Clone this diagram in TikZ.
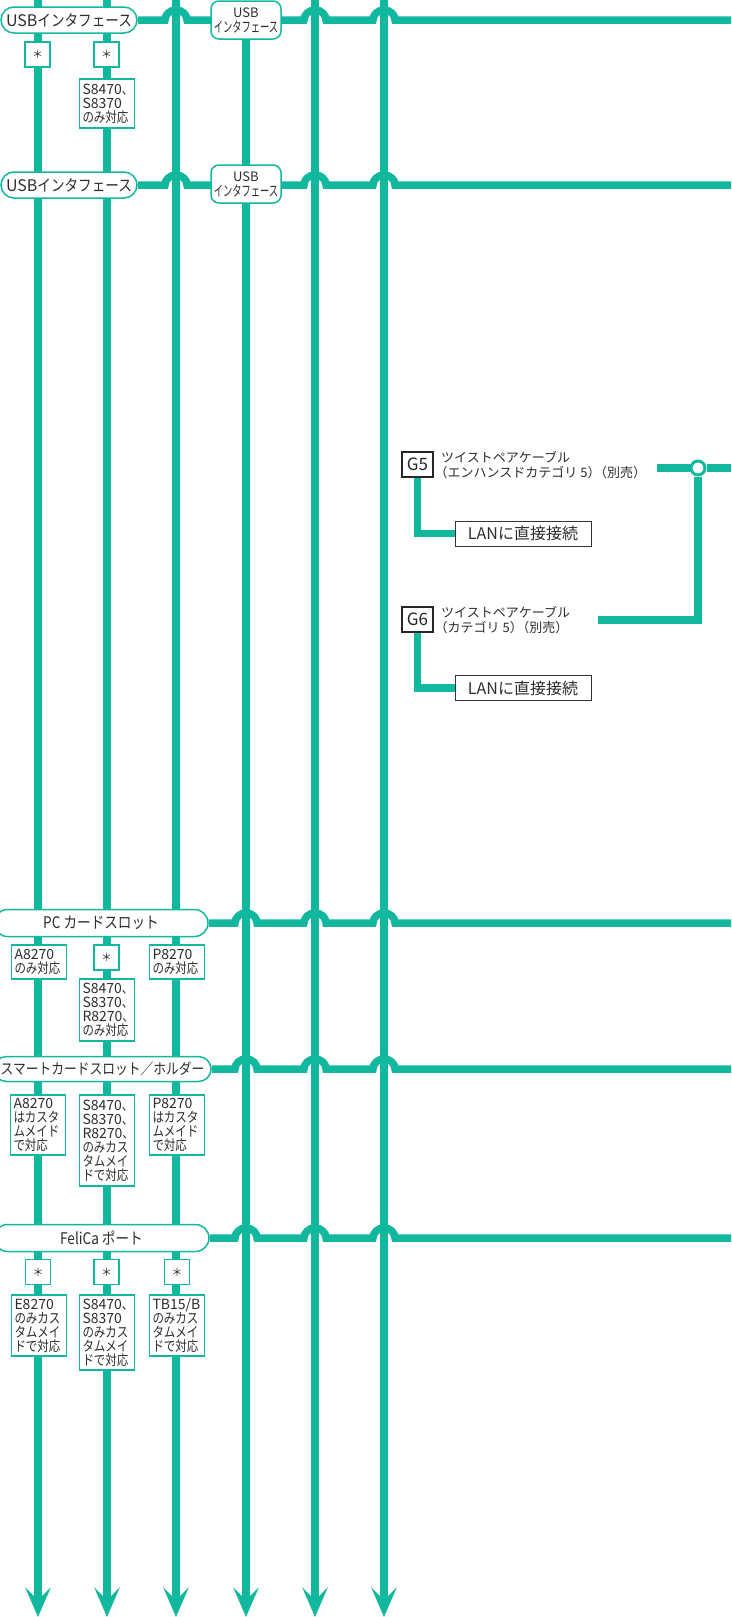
\documentclass[tikz,border=0pt]{standalone}
\usepackage{fontspec}
\setmainfont{Noto Sans CJK JP}
\newfontfamily\jpa[FakeStretch=0.85]{Noto Sans CJK JP}
\newfontfamily\jpb[FakeStretch=0.82]{Noto Sans CJK JP}
\newfontfamily\jpc[FakeStretch=0.64]{Noto Sans CJK JP}
\newfontfamily\jpd{Noto Sans CJK JP}
\newfontfamily\jph[RawFeature=+halt]{Noto Sans CJK JP}
\newcommand\lt[1]{{\jpd #1}}
\newcommand\hw[1]{{\jph #1}}
\usetikzlibrary{arrows.meta,shapes.misc,backgrounds}
\definecolor{mint}{RGB}{18,184,158}
\definecolor{ink}{RGB}{45,45,45}
\begin{document}
\begin{tikzpicture}[x=1pt,y=-1pt,
  mainline/.style={draw=mint,line width=7.5pt},
  downarrow/.style={-{Stealth[length=30pt,width=26pt,inset=13pt,line width=0pt]}},
  bubble/.style={rounded rectangle, draw=mint, line width=1.5pt, fill=white, text=ink, inner sep=0pt, font=\jpa\fontsize{16}{18}\selectfont},
  usbb/.style={rectangle, rounded corners=8pt, draw=mint, line width=1.5pt, fill=white, text=ink, minimum width=70pt, minimum height=38pt, inner sep=0pt, align=center, font=\jpc\fontsize{14.5}{15}\selectfont},
  tbox/.style={rectangle, draw=mint, line width=1.2pt, fill=white, text=ink, inner xsep=3pt, inner ysep=0pt, text width=49pt, align=left, font=\jpb\fontsize{14}{14}\selectfont},
  star/.style={rectangle, draw=mint, line width=1.2pt, fill=white, text=ink, minimum width=25pt, minimum height=25pt, inner sep=0pt, font=\jpd\fontsize{11}{11}\selectfont},
  gbox/.style={rectangle, draw=black!85, line width=1.1pt, fill=white, text=black!85, minimum width=31pt, minimum height=25pt, inner sep=0pt, font=\jpb\fontsize{17}{17}\selectfont},
  lanbox/.style={rectangle, draw=black!80, line width=1pt, fill=white, text=ink, minimum width=136pt, minimum height=25pt, inner sep=0pt, font=\jpd\fontsize{16}{16}\selectfont},
  gtext/.style={anchor=west, inner sep=0pt, align=left, text=ink, font=\jpd\fontsize{13}{15}\selectfont},
  ring/.style={circle, draw=mint, line width=3pt, fill=white, minimum size=14pt, inner sep=0pt}
]
\useasboundingbox (0,0) rectangle (731,1617);

% left bubbles
\node[bubble, minimum width=136pt, minimum height=26pt] (b1) at (69,20) {\lt{USB}インタフェース};
\node[bubble, minimum width=136pt, minimum height=26pt] (b2) at (69,185) {\lt{USB}インタフェース};
\node[bubble, minimum width=214pt, minimum height=27pt] (b3) at (101,923) {PC カードスロット};
\node[bubble, minimum width=217pt, minimum height=25pt, font=\jpa\fontsize{15}{17}\selectfont] (b4) at (102.5,1069) {スマートカードスロット／ホルダー};
\node[bubble, minimum width=215pt, minimum height=27pt] (b5) at (101.5,1238) {FeliCa ポート};

% USB bubbles on column 4
\node[usbb] (u1) at (246,20) {{\jpd\fontsize{13}{15}\selectfont USB}\\インタフェース};
\node[usbb] (u2) at (246,184) {{\jpd\fontsize{13}{15}\selectfont USB}\\インタフェース};

% USB section boxes
\node[star] (s1a) at (37.5,54.5) {＊};
\node[star] (s1b) at (106.5,54.5) {＊};
\node[tbox, minimum height=49pt] (t1b) at (107,103.5) {\lt{S8470}、\\\lt{S8370}\\のみ対応};

% PC card section
\node[tbox, minimum height=34pt] (p1) at (39,962) {\lt{A8270}\\のみ対応};
\node[star] (p2s) at (106.5,957.5) {＊};
\node[tbox, minimum height=62pt] (p2) at (107,1010) {\lt{S8470}、\\\lt{S8370}、\\\lt{R8270}、\\のみ対応};
\node[tbox, minimum height=34pt] (p3) at (177,962) {\lt{P8270}\\のみ対応};

% smart card section
\node[tbox, minimum height=60pt] (c1) at (38,1125) {\lt{A8270}\\はカスタ\\ムメイド\\で対応};
\node[tbox, minimum height=91pt] (c2) at (107,1140.5) {\lt{S8470}、\\\lt{S8370}、\\\lt{R8270}、\\のみカス\\タムメイ\\ドで対応};
\node[tbox, minimum height=60pt] (c3) at (177,1125) {\lt{P8270}\\はカスタ\\ムメイド\\で対応};

% FeliCa section
\node[star] (f1s) at (38,1272) {＊};
\node[star] (f2s) at (106.5,1272) {＊};
\node[star] (f3s) at (177,1272) {＊};
\node[tbox, minimum height=61pt] (f1) at (39,1325.5) {\lt{E8270}\\のみカス\\タムメイ\\ドで対応};
\node[tbox, minimum height=75pt] (f2) at (107,1332.5) {\lt{S8470}、\\\lt{S8370}\\のみカス\\タムメイ\\ドで対応};
\node[tbox, minimum height=61pt] (f3) at (177,1325.5) {\lt{TB15/B}\\のみカス\\タムメイ\\ドで対応};

% G section
\node[gbox] (g5) at (417.5,464.5) {\lt{G5}};
\node[gtext] (g5t) at (441,465) {ツイストペアケーブル\\\hw{（}エンハンスドカテゴリ 5\hw{）}（別売）};
\node[lanbox] (l5) at (523,533.5) {LANに直接接続};
\node[gbox] (g6) at (417.5,619.5) {\lt{G6}};
\node[gtext] (g6t) at (441,620) {ツイストペアケーブル\\\hw{（}カテゴリ 5\hw{）}（別売）};
\node[lanbox] (l6) at (523,688) {LANに直接接続};
\node[ring] (ring) at (698,468) {};
\coordinate (g5s) at (657,468);
\coordinate (g5e) at (731,468);
\coordinate (g6s) at (598,620);

% column ends
\foreach \i/\x in {1/38,2/107,3/176,4/246,5/315,6/384}{
  \coordinate (top\i) at (\x,0);
  \coordinate (bot\i) at (\x,1617);
}
\coordinate (r1) at (731,20);
\coordinate (r2) at (731,185);
\coordinate (r3) at (731,923);
\coordinate (r4) at (731,1069);
\coordinate (r5) at (731,1238);

\begin{scope}[on background layer]
  % vertical trunks
  \draw[mainline, downarrow] (top1) -- (bot1);
  \draw[mainline, downarrow] (top2) -- (bot2);
  \draw[mainline, downarrow] (top3) -- (bot3);
  \draw[mainline, downarrow] (u1) -- (bot4);
  \draw[mainline, downarrow] (top5) -- (bot5);
  \draw[mainline, downarrow] (top6) -- (bot6);
  % horizontal buses with hops
  \draw[mainline] (b1) -- (165,20) arc[start angle=180,end angle=0,x radius=11pt,y radius=10pt]
     -- (304,20) arc[start angle=180,end angle=0,x radius=11pt,y radius=10pt]
     -- (373,20) arc[start angle=180,end angle=0,x radius=11pt,y radius=10pt] -- (r1);
  \draw[mainline] (b2) -- (165,185) arc[start angle=180,end angle=0,x radius=11pt,y radius=10pt]
     -- (304,185) arc[start angle=180,end angle=0,x radius=11pt,y radius=10pt]
     -- (373,185) arc[start angle=180,end angle=0,x radius=11pt,y radius=10pt] -- (r2);
  \draw[mainline] (b3) -- (235,923) arc[start angle=180,end angle=0,x radius=11pt,y radius=10pt]
     -- (304,923) arc[start angle=180,end angle=0,x radius=11pt,y radius=10pt]
     -- (373,923) arc[start angle=180,end angle=0,x radius=11pt,y radius=10pt] -- (r3);
  \draw[mainline] (b4) -- (235,1069) arc[start angle=180,end angle=0,x radius=11pt,y radius=10pt]
     -- (304,1069) arc[start angle=180,end angle=0,x radius=11pt,y radius=10pt]
     -- (373,1069) arc[start angle=180,end angle=0,x radius=11pt,y radius=10pt] -- (r4);
  \draw[mainline] (b5) -- (235,1238) arc[start angle=180,end angle=0,x radius=11pt,y radius=10pt]
     -- (304,1238) arc[start angle=180,end angle=0,x radius=11pt,y radius=10pt]
     -- (373,1238) arc[start angle=180,end angle=0,x radius=11pt,y radius=10pt] -- (r5);
  % cables
  \draw[mainline] (g5s) -- (ring) -- (g5e);
  \draw[mainline] (ring) |- (g6s);
  \draw[mainline] (g5) |- (l5);
  \draw[mainline] (g6) |- (l6);
\end{scope}
\end{tikzpicture}
\end{document}
